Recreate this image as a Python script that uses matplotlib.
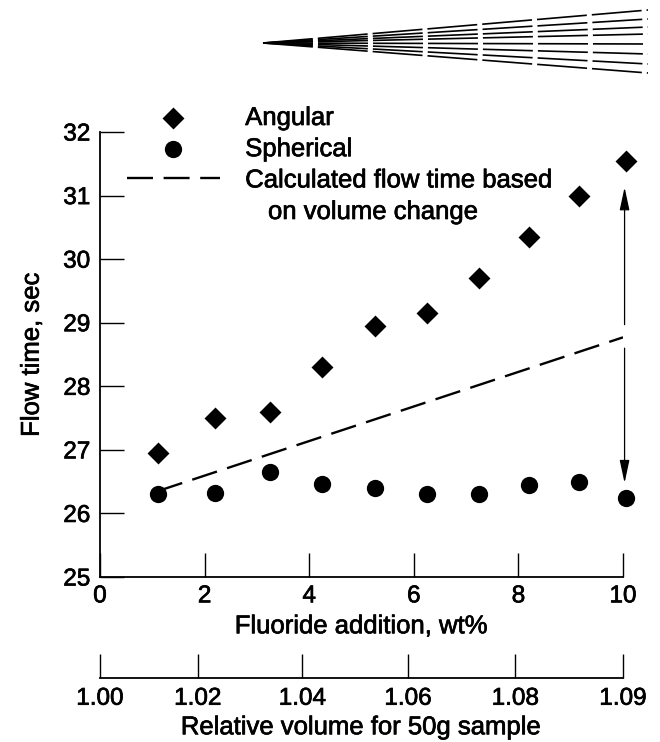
"""
Flow time vs fluoride addition, angular vs spherical powder.
"""

import matplotlib
matplotlib.use("Agg")
import matplotlib.pyplot as plt
import matplotlib.patheffects as pe
from matplotlib.lines import Line2D

plt.rcParams["font.family"] = ["Liberation Sans", "DejaVu Sans"]

# ── data ──────────────────────────────────────────────────────────────────────
wt_pct    = [1.1, 2.2, 3.25, 4.25, 5.25, 6.25, 7.25, 8.2, 9.15, 10.05]
angular   = [26.95, 27.5, 27.6, 28.3, 28.95, 29.15, 29.7, 30.35, 31.0, 31.55]
spherical = [26.3, 26.32, 26.65, 26.47, 26.4, 26.3, 26.3, 26.45, 26.5, 26.25]

calc_x = [1.1, 10.0]
calc_y = [26.35, 28.77]

arrow_x    = 10.03
arrow_up   = (28.97, 31.13)
arrow_down = (28.6, 26.48)

x_ticks = [0, 2, 4, 6, 8, 10]
y_ticks = [25, 26, 27, 28, 29, 30, 31, 32]

# relative-volume scale: label -> position on wt% axis
vol_labels = ["1.00", "1.02", "1.04", "1.06", "1.08", "1.09"]
vol_pos    = [0, 1.87, 3.87, 5.89, 7.94, 10]

LABELS = ["Angular", "Spherical", "Calculated flow time based"]
LABEL_CONT = "on volume change"

# decorative fan at top right (figure pixels)
FAN_APEX = (263, 43)
FAN_END_X = 648
FAN_END_Y = [10, 19, 27, 34, 44, 54, 64, 73]

# ── figure ────────────────────────────────────────────────────────────────────
W, H = 660, 742
fig = plt.figure(figsize=(W / 100, H / 100), dpi=100)
thick = [pe.withStroke(linewidth=0.5, foreground="black")]

def fx(px): return px / W
def fy(py): return 1 - py / H

ax = fig.add_axes([fx(100), fy(577), fx(623) - fx(100), fy(132) - fy(577)])

ax.scatter(wt_pct, angular, marker="D", s=125, color="black", lw=0,
           label=LABELS[0], zorder=3, clip_on=False)
ax.scatter(wt_pct, spherical, marker="o", s=155, color="black", lw=0,
           label=LABELS[1], zorder=3, clip_on=False)
ax.plot(calc_x, calc_y, color="black", lw=1.7, ls=(0, (11, 4.5)), label=LABELS[2])

aprops = dict(arrowstyle="-|>,head_length=1.4,head_width=0.3", lw=0.9,
              color="black", shrinkA=0, shrinkB=0, mutation_scale=10)
for y0, y1 in [arrow_up, arrow_down]:
    ax.annotate("", xy=(arrow_x, y1), xytext=(arrow_x, y0),
                arrowprops=aprops, annotation_clip=False)

ax.set_xlim(0, 10)
ax.set_ylim(25, 32)
ax.set_xticks(x_ticks)
ax.set_yticks(y_ticks)
ax.spines[["top", "right"]].set_visible(False)
for s in ["left", "bottom"]:
    ax.spines[s].set_linewidth(1.3)
ax.tick_params(direction="in", length=17, width=1.0, labelsize=17.5)
ax.tick_params(axis="y", pad=7)
ax.tick_params(axis="x", pad=6)
ax.set_xlabel("Fluoride addition, wt%", fontsize=18.5, labelpad=5)
ax.set_ylabel("Flow time, sec", fontsize=18.5, labelpad=14)

# secondary scale
ax2 = fig.add_axes([fx(100), fy(678), fx(623) - fx(100), 0.0001])
ax2.set_xlim(0, 10)
ax2.set_yticks([])
ax2.set_xticks(vol_pos)
ax2.set_xticklabels(vol_labels)
for s in ["top", "right", "left"]:
    ax2.spines[s].set_visible(False)
ax2.spines["bottom"].set_linewidth(1.3)
ax2.tick_params(direction="in", length=17, width=1.0, labelsize=17.5, pad=7)
ax2.set_xlabel("Relative volume for 50g sample", fontsize=18.5, labelpad=4)

# legend
leg = fig.legend(*ax.get_legend_handles_labels(), loc="upper left",
                 bbox_to_anchor=(fx(127), fy(106)), frameon=False, fontsize=18.5,
                 handlelength=3.6, handletextpad=1.0, labelspacing=0.28,
                 borderpad=0, borderaxespad=0, scatterpoints=1)
extra = fig.text(fx(268), fy(212), LABEL_CONT, fontsize=18.5, va="center", ha="left")

# slightly heavier text, like the printed original
texts = leg.get_texts() + [extra, ax.xaxis.label, ax.yaxis.label, ax2.xaxis.label]
texts += ax.get_xticklabels() + ax.get_yticklabels() + ax2.get_xticklabels()
for t in texts:
    t.set_path_effects(thick)

# decorative fan
for ey in FAN_END_Y:
    fig.add_artist(Line2D([fx(FAN_APEX[0]), fx(FAN_END_X)], [fy(FAN_APEX[1]), fy(ey)],
                          transform=fig.transFigure, color="black", lw=1.2,
                          ls=(0, (30, 3))))

fig.savefig("out.png", dpi=100)
